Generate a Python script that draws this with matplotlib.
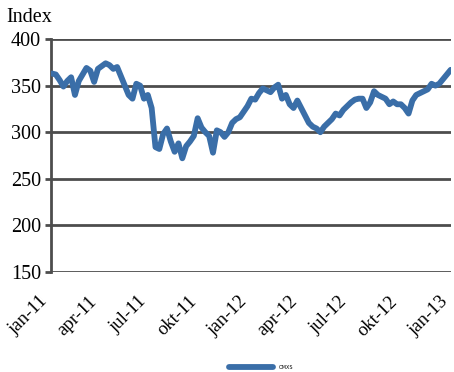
import matplotlib
matplotlib.use("Agg")
import matplotlib.pyplot as plt
import matplotlib.transforms as mtransforms
import pandas as pd

# weekly closes of the index, jan 2011 - dec 2012
dates = pd.date_range("2011-01-03", periods=105, freq="7D")
omxs = [
    363, 362, 356, 349, 355, 359, 340, 355, 362, 369,
    366, 354, 368, 371, 374, 372, 368, 370, 360, 350,
    340, 336, 352, 350, 336, 340, 326, 284, 282, 298,
    304, 290, 279, 288, 272, 285, 290, 296, 315, 305,
    300, 296, 278, 302, 300, 295, 300, 310, 314, 316,
    322, 328, 336, 335, 342, 347, 345, 343, 348, 351,
    336, 340, 330, 326, 334, 326, 318, 310, 306, 304,
    300, 306, 310, 314, 320, 318, 324, 328, 332, 335,
    336, 336, 326, 332, 344, 340, 338, 336, 330, 333,
    330, 330, 326, 320, 334, 340, 342, 344, 346, 352,
    350, 352, 357, 362, 367,
]

tick_dates = pd.date_range("2011-01-01", "2013-01-01", freq="QS")
tick_labels = ["jan-11", "apr-11", "jul-11", "okt-11", "jan-12",
               "apr-12", "jul-12", "okt-12", "jan-13"]
y_ticks = [150, 200, 250, 300, 350, 400]

serif = ["Liberation Serif", "DejaVu Serif"]
grid_col = "#4d4d4d"

fig = plt.figure(figsize=(4.54, 3.72), dpi=100)
ax = fig.add_axes([0.112, 0.269, 0.882, 0.626])

for v in y_ticks:
    ax.axhline(v, color=grid_col, lw=2.0, zorder=1)

ax.plot(dates, omxs, color="#3a6ea8", lw=4.2, solid_joinstyle="round",
        solid_capstyle="round", zorder=3, label="OMXS")

ax.set_xlim(pd.Timestamp("2011-01-01"), pd.Timestamp("2013-01-01"))
ax.set_ylim(150, 400)
ax.set_yticks(y_ticks)
ax.set_yticklabels([str(v) for v in y_ticks], fontfamily=serif, fontsize=14.5)
ax.set_xticks(tick_dates)
ax.set_xticklabels(tick_labels, rotation=45, ha="right",
                   fontfamily=serif, fontsize=13.5)

# nudge the slanted date labels a little to the right
shift = mtransforms.ScaledTranslation(5 / 100, 0, fig.dpi_scale_trans)
for lbl in ax.get_xticklabels():
    lbl.set_transform(lbl.get_transform() + shift)

for side in ["top", "right", "bottom"]:
    ax.spines[side].set_visible(False)
ax.spines["left"].set_color(grid_col)
ax.spines["left"].set_linewidth(2.0)
ax.tick_params(axis="y", length=4, width=2.0, color=grid_col, pad=3)
ax.tick_params(axis="x", length=0, pad=15)

fig.text(0.015, 0.94, "Index", fontfamily=serif, fontsize=14.5)

fig.legend(loc="center", bbox_to_anchor=(0.575, 0.013), frameon=False,
           fontsize=3.5, handlelength=9, handletextpad=1.2)

fig.savefig("out.png", dpi=100)
